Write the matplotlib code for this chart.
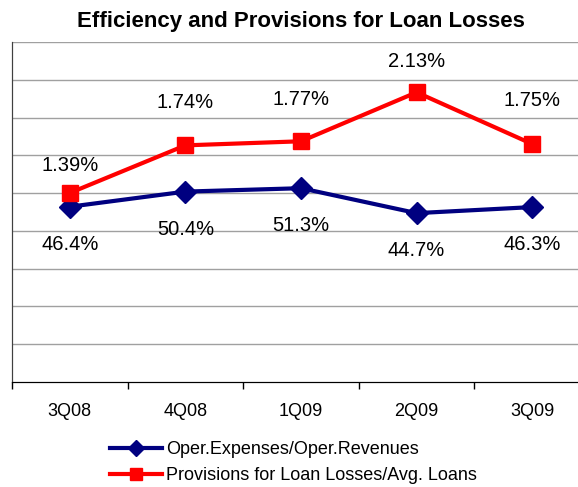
import matplotlib
matplotlib.use("Agg")
import matplotlib.pyplot as plt

quarters = ["3Q08", "4Q08", "1Q09", "2Q09", "3Q09"]
efficiency = [46.4, 50.4, 51.3, 44.7, 46.3]
provisions = [1.39, 1.74, 1.77, 2.13, 1.75]
eff_name = "Oper.Expenses/Oper.Revenues"
prov_name = "Provisions for Loan Losses/Avg. Loans"

# label lift above the red markers, in points (as placed in the original)
prov_lift = [19.5, 31, 30, 22, 31]

plt.rcParams["font.family"] = ["Liberation Sans", "DejaVu Sans"]

W, H = 578, 487
fig = plt.figure(figsize=(W/100, H/100), dpi=100)
ax = fig.add_axes([12/W, 105/H, 578/W, 340/H])
ax2 = ax.twinx()

x = range(len(quarters))
l1, = ax.plot(x, efficiency, color="#000080", lw=3, marker="D", ms=11, zorder=3)
l2, = ax2.plot(x, provisions, color="#ff0000", lw=3, marker="s", ms=11.5, zorder=3)

ax.set_ylim(0, 90)
ax.set_yticks(range(10, 91, 10))
ax.yaxis.grid(True, color="#a0a0a0", lw=1)
ax.set_axisbelow(True)
ax.tick_params(axis="y", length=0, labelleft=False)
ax2.set_ylim(0, 2.5)
ax2.set_yticks([])

ax.set_xlim(-0.5, len(quarters) - 0.5)
ax.set_xticks(x)
ax.set_xticklabels(quarters, fontsize=13)
ax.set_xticks([i + 0.5 for i in range(-1, len(quarters))], minor=True)
ax.tick_params(axis="x", which="major", length=0, pad=15)
ax.tick_params(axis="x", which="minor", length=5, width=1, color="black")

for a in (ax, ax2):
    for s in ("top", "right"):
        a.spines[s].set_visible(False)
    a.spines["left"].set_color("#404040")
    a.spines["bottom"].set_color("black")

for i, v in enumerate(efficiency):
    ax.annotate(f"{v:.1f}%", (i, v), xytext=(0, -27), textcoords="offset points",
                ha="center", va="center", fontsize=14.5)
for i, v in enumerate(provisions):
    ax2.annotate(f"{v:.2f}%", (i, v), xytext=(0, prov_lift[i]), textcoords="offset points",
                 ha="center", va="center", fontsize=14.5)

fig.text(301/W, 1 - 22/H, "Efficiency and Provisions for Loan Losses",
         ha="center", va="center", fontsize=16, fontweight="bold")

fig.legend([l1, l2], [eff_name, prov_name], loc="upper left",
           bbox_to_anchor=(110/W, (487 - 441)/H), frameon=False, fontsize=13,
           handlelength=2.9, handletextpad=0.2, labelspacing=0.5, markerscale=0.7,
           borderpad=0, borderaxespad=0)

fig.savefig("out.png", dpi=100)
